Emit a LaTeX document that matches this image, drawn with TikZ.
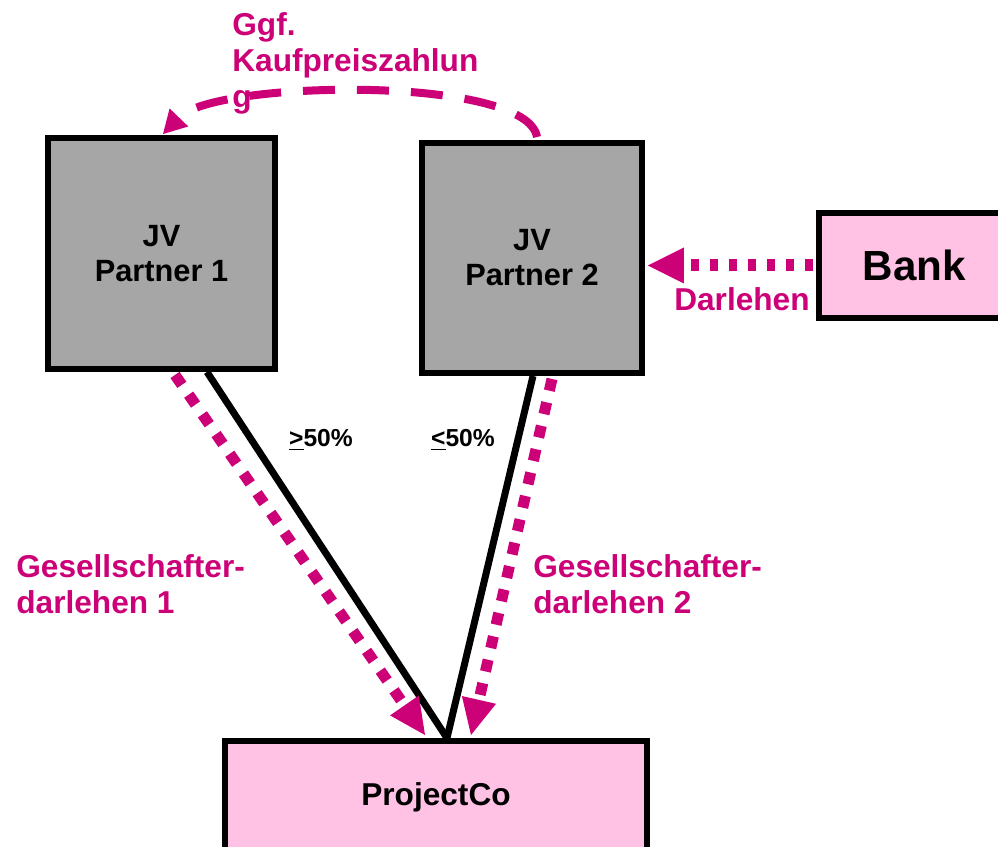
\documentclass[tikz,border=0pt]{standalone}
\usepackage{fontspec}
\setmainfont{Liberation Sans}
\usetikzlibrary{arrows.meta}
\definecolor{jvgray}{HTML}{A6A6A6}
\definecolor{lenderpink}{HTML}{FFC1E4}
\definecolor{flowmag}{HTML}{CC0077}

\begin{document}
\begin{tikzpicture}[x=0.02cm,y=-0.02cm,
  partner/.style={draw=black, fill=jvgray, line width=0.12cm, inner sep=0pt,
    align=center, font=\bfseries\fontsize{17.5}{20}\selectfont},
  lender/.style={draw=black, fill=lenderpink, line width=0.12cm, inner sep=0pt,
    align=center, font=\bfseries\fontsize{18}{21}\selectfont},
  owner/.style={draw=black, line width=0.14cm},
  loan/.style={draw=flowmag, line width=0.22cm, dash pattern=on 0.24cm off 0.24cm,
    -{Triangle[length=0.72cm,width=0.70cm,line width=0pt]}},
  loanh/.style={draw=flowmag, line width=0.24cm, dash pattern=on 0.16cm off 0.22cm,
    -{Triangle[length=0.72cm,width=0.72cm,line width=0pt]}},
  purchase/.style={draw=flowmag, line width=0.16cm, dash pattern=on 0.64cm off 0.44cm,
    -{Triangle[length=0.46cm,width=0.52cm,line width=0pt]}},
  flowlabel/.style={text=flowmag, inner sep=0pt, align=left,
    font=\bfseries\fontsize{18}{20.5}\selectfont},
  share/.style={inner sep=0pt, font=\bfseries\fontsize{14}{16}\selectfont}]

\useasboundingbox (0,0) rectangle (998,847);

% boxes
\node[partner, minimum width=4.54cm, minimum height=4.62cm] (p1) at (161.5,253.5) {JV\\Partner 1};
\node[partner, minimum width=4.40cm, minimum height=4.60cm] (p2) at (532,258) {JV\\Partner 2};
\node[lender, minimum width=3.82cm, minimum height=2.10cm,
  font=\bfseries\fontsize{24}{28}\selectfont] (bank) at (914.5,265.5) {Bank};
\node[lender, minimum width=8.44cm, minimum height=2.24cm] (pc) at (436,797) {ProjectCo};

% shareholdings
\draw[owner] ([xshift=0.91cm]p1.south) -- ([xshift=0.22cm]pc.north);
\draw[owner] ([xshift=0.02cm]p2.south) -- ([xshift=0.22cm]pc.north);

% shareholder loans
\draw[loan] ([xshift=0.27cm,yshift=-0.06cm]p1.south) -- ([xshift=-0.22cm,yshift=0.06cm]pc.north);
\draw[loan] ([xshift=0.40cm,yshift=-0.06cm]p2.south) -- ([xshift=0.70cm,yshift=0.06cm]pc.north);

% bank loan
\coordinate (p2r) at ([xshift=0.06cm]p2.east);
\draw[loanh] ([xshift=-0.06cm]bank.west) -- (bank.west -| p2r);

% optional purchase price payment
\draw[purchase] ([xshift=0.1cm,yshift=0.06cm]p2.north) .. controls (527,75) and (215,80) .. ([xshift=0.03cm,yshift=0.02cm]p1.north);

% labels
\node[flowlabel, anchor=north west] (kp) at (232,12) {Ggf.\\Kaufpreiszahlun\\g};
\node[flowlabel, anchor=north west] (gd1) at (16,554) {Gesellschafter-\\darlehen 1};
\node[flowlabel, anchor=north west] (gd2) at (533,554) {Gesellschafter-\\darlehen 2};
\node[flowlabel, anchor=east] (dl) at (810,299) {Darlehen};
\node[share] (s1) at (321,440) {\underline{>}50\%};
\node[share] (s2) at (463,440) {\underline{<}50\%};
\end{tikzpicture}
\end{document}
